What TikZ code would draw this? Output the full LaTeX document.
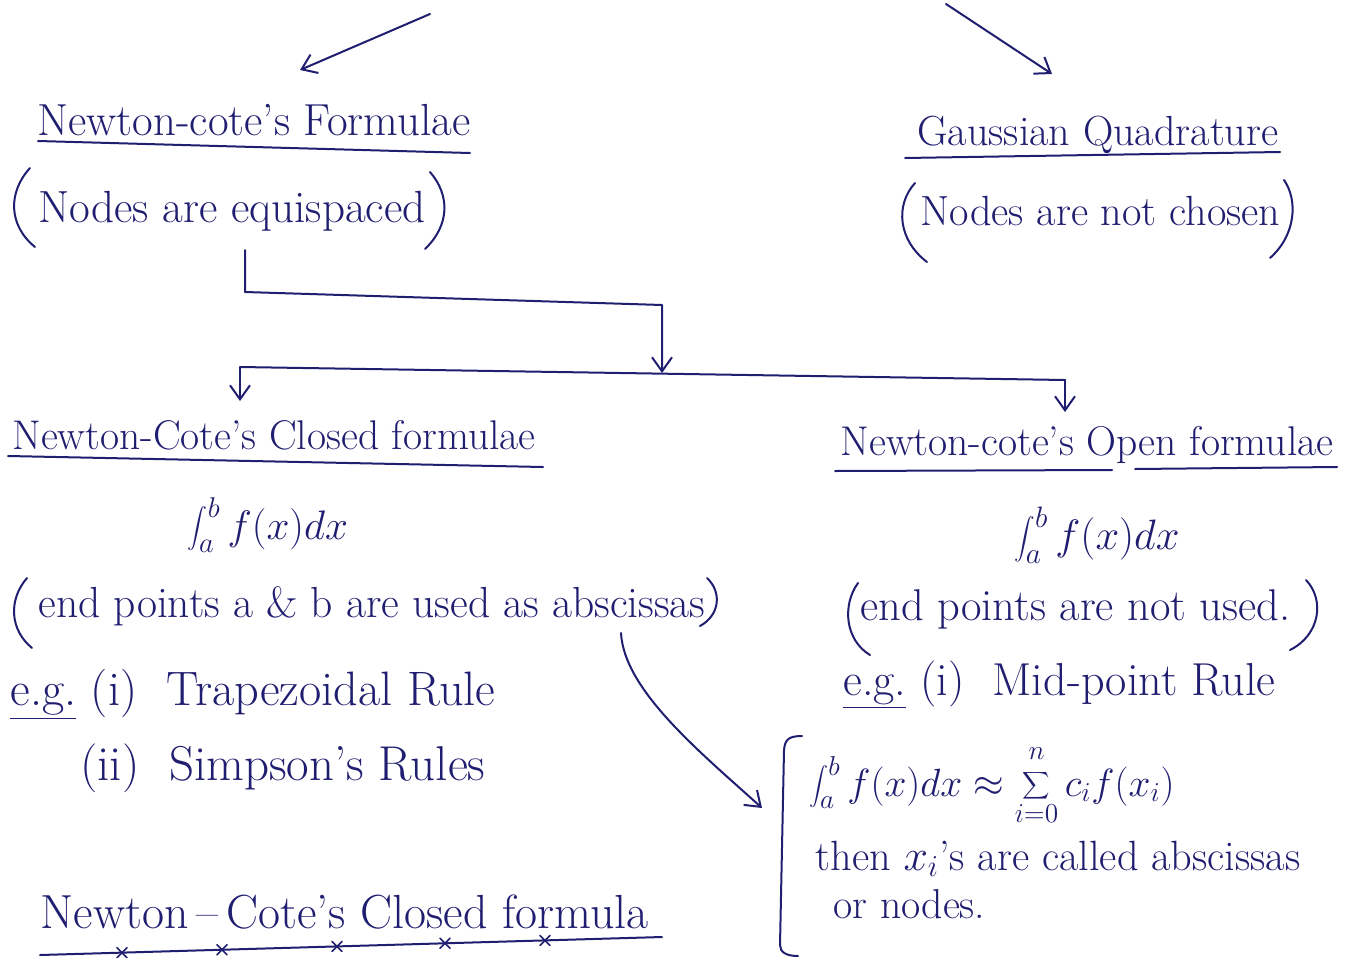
\documentclass[tikz,border=0pt]{standalone}
\usepackage{graphicx}
\usetikzlibrary{arrows.meta}
\definecolor{ink}{RGB}{32,30,112}
\newlength\fwlen
\newcommand\fw[2]{\setlength\fwlen{#1pt}\fwlen=0.5\fwlen\resizebox{\fwlen}{!}{#2}}
\tikzset{
  txt/.style={anchor=base west, inner sep=0pt, text=ink, font=\fontsize{20}{24}\selectfont},
  ctxt/.style={anchor=center, inner sep=0pt, text=ink, font=\fontsize{20}{24}\selectfont},
  pen/.style={draw=ink, line width=1pt, line cap=round, line join=round},
  arr/.style={pen, -{Straight Barb[length=7pt,width=10pt,line width=1pt]}},
}
\begin{document}
\begin{tikzpicture}[x=0.5pt,y=-0.5pt]
\useasboundingbox (0,0) rectangle (1353,958);
\fill[white] (0,0) rectangle (1353,958);

% top arrows (sources off the page)
\coordinate (tl) at (430,14);
\coordinate (tle) at (300,70);
\coordinate (tr) at (946,4);
\coordinate (tre) at (1052,74);
\draw[arr] (tl) -- (tle);
\draw[arr] (tr) -- (tre);

% Newton-cote's formulae
\node[txt] (nf) at (37,135) {\fw{433}{Newton-cote's Formulae}};
\draw[pen] (38,141) -- (470,153);
\node[txt] (nfs) at (38,222) {\fw{387}{Nodes are equispaced}};
\draw[pen] (30,168) .. controls (8,192) and (8,225) .. (35,247);
\draw[pen] (430,172) .. controls (450,195) and (450,225) .. (425,249);

% Gaussian quadrature
\node[txt] (gq) at (917,145) {\fw{361}{Gaussian Quadrature}};
\draw[pen] (905,158) -- (1280,152);
\node[txt] (gqs) at (920,225) {\fw{360}{Nodes are not chosen}};
\draw[pen] (915,183) .. controls (895,205) and (898,240) .. (927,262);
\draw[pen] (1284,180) .. controls (1298,200) and (1296,235) .. (1270,258);

% connectors
\coordinate (c1) at (245,250);
\coordinate (c2) at (245,292);
\coordinate (c3) at (662,305);
\coordinate (c4) at (662,373);
\draw[arr] (c1) -- (c2) -- (c3) -- (c4);
\coordinate (bl) at (240,367);
\coordinate (br) at (1065,380);
\coordinate (ble) at (240,401);
\coordinate (bre) at (1065,412);
\draw[pen] (bl) -- (br);
\draw[arr] (bl) -- (ble);
\draw[arr] (br) -- (bre);

% Closed formulae
\node[txt] (cl) at (12,449) {\fw{523}{Newton-Cote's Closed formulae}};
\draw[pen] (8,456) -- (543,467);
\node[ctxt] (cli) at (268,525) {\fw{160}{$\displaystyle\int_a^b f(x)dx$}};
\node[txt] (cls) at (38,617) {\fw{667}{end points a \& b are used as abscissas}};
\draw[pen] (27,578) .. controls (8,600) and (10,630) .. (32,648);
\draw[pen] (707,578) .. controls (722,592) and (720,615) .. (700,626);
\node[txt] (eg1) at (10,705) {\fw{485}{\underline{e.g.} (i)\ \ Trapezoidal Rule}};
\node[txt] (eg2) at (80,780) {\fw{405}{(ii)\ \ Simpson's Rules}};

% bottom heading with equispaced marks
\node[txt] (bot) at (40,928) {\fw{608}{Newton\,--\,Cote's Closed formula}};
\coordinate (u1) at (40,955);
\coordinate (u2) at (662,937);
\draw[pen] (u1) -- (u2);
\foreach \xx in {122,222,337,445,545}{
  \pgfmathsetmacro\yy{955-18*(\xx-40)/622}
  \draw[pen, line width=0.8pt] (\xx-5,\yy-5) -- (\xx+5,\yy+5) (\xx-5,\yy+5) -- (\xx+5,\yy-5);
}

% Open formulae
\node[txt] (op) at (840,455) {\fw{493}{Newton-cote's Open formulae}};
\draw[pen] (835,471) -- (1112,470);
\draw[pen] (1135,469) -- (1337,467);
\node[ctxt] (opi) at (1097,535) {\fw{165}{$\displaystyle\int_a^b f(x)dx$}};
\node[txt] (ops) at (860,620) {\fw{430}{end points are not used.}};
\draw[pen] (858,583) .. controls (842,605) and (845,640) .. (870,655);
\draw[pen] (1306,580) .. controls (1325,600) and (1320,635) .. (1290,650);
\node[txt] (eg3) at (843,695) {\fw{432}{\underline{e.g.} (i)\ \ Mid-point Rule}};

% bracket block
\draw[pen] (802,736) .. controls (788,736) and (785,740) .. (784,750) -- (780,945) .. controls (780,952) and (786,956) .. (798,956);
\node[ctxt] (fm) at (992,785) {\fw{365}{$\displaystyle\int_a^b f(x)dx \approx \sum_{\rule{0pt}{9pt}i=0}^{n\rule[-5pt]{0pt}{5pt}} c_i f(x_i)$}};
\node[txt] (th) at (815,870) {\fw{485}{then $x_i$'s are called abscissas}};
\node[txt] (orn) at (833,918) {\fw{152}{or nodes.}};

% curved arrow from abscissas to the bracket
\coordinate (ca) at (621,633);
\coordinate (cb) at (762,808);
\draw[arr] (ca) .. controls (624,690) and (700,752) .. (cb);
\end{tikzpicture}
\end{document}
